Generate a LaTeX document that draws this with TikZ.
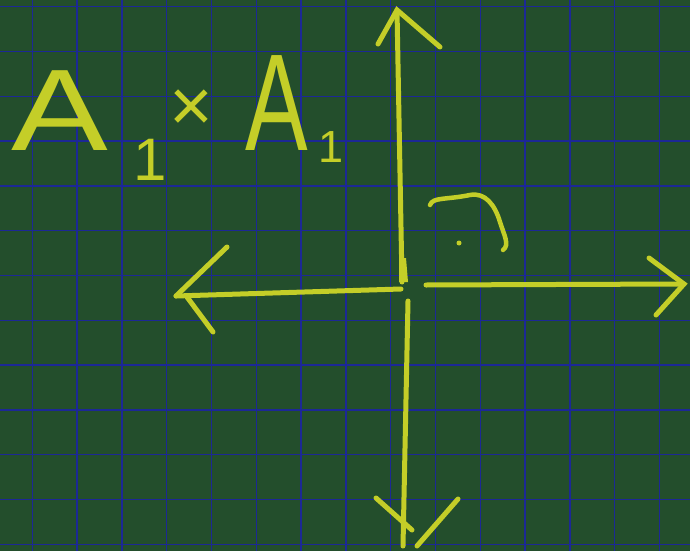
\documentclass[tikz,border=0pt]{standalone}
\usepackage{fontspec}
\setmainfont{Liberation Sans}
\definecolor{board}{RGB}{35,78,44}
\definecolor{gridblue}{RGB}{28,40,150}
\definecolor{chalk}{RGB}{196,206,40}
\tikzset{
  chalkline/.style={draw=chalk,line width=5pt,line cap=round},
  gridline/.style={draw=gridblue,line width=1.3pt},
  chalktext/.style={text=chalk,inner sep=0pt,anchor=base west},
}
\begin{document}
\begin{tikzpicture}[x=1pt,y=-1pt]
\fill[board] (0,0) rectangle (690,551);
\useasboundingbox (0,0) rectangle (690,551);
\foreach \k in {0,...,14} {\draw[gridline] (32.3+44.8*\k,0) -- (32.3+44.8*\k,551);}
\foreach \k in {0,...,12} {\draw[gridline] (0,6.7+44.8*\k) -- (690,6.7+44.8*\k);}
% text
\node[chalktext,font=\fontsize{116}{116}\selectfont,xscale=1.25] (a1) at (11,150) {A};
\node[chalktext,font=\fontsize{60}{60}\selectfont] (s1) at (133,180) {1};
\node[chalktext,font=\fontsize{75}{75}\selectfont,anchor=center] (times) at (191,111) {×};
\node[chalktext,font=\fontsize{138}{138}\selectfont,xscale=0.68] (a2) at (245,150) {A};
\node[chalktext,font=\fontsize{45}{45}\selectfont] (s2) at (318,162) {1};
% axes
\coordinate (up0) at (402,282);
\coordinate (up1) at (397,10);
\coordinate (upl) at (378,44);
\coordinate (upr) at (440,47);
\coordinate (rt0) at (426,285);
\coordinate (rt1) at (684,284);
\coordinate (rtu) at (649,258);
\coordinate (rtd) at (656,315);
\coordinate (lf0) at (401,289);
\coordinate (lf1) at (176,296);
\coordinate (lfu) at (227,247);
\coordinate (lfd) at (213,332);
\coordinate (lfh) at (187,297);
\coordinate (dn0) at (408,301);
\coordinate (dn1) at (403,546);
\coordinate (dnl) at (376,498);
\coordinate (dnlb) at (412,530);
\coordinate (dnr) at (458,499);
\coordinate (dnrb) at (417,546);
\draw[chalkline] (up0) -- (up1);
\draw[chalkline] (upl) -- (up1) -- (upr);
\fill[chalk] (399,258) -- (406,258) -- (408,282) -- (399,282) -- cycle;
\draw[chalkline] (rt0) -- (rt1);
\draw[chalkline] (rtu) -- (rt1) -- (rtd);
\draw[chalkline] (lf0) -- (lf1);
\draw[chalkline] (lfu) -- (lf1);
\draw[chalkline] (lfh) -- (lfd);
\draw[chalkline] (dn0) -- (dn1);
\draw[chalkline] (dnl) -- (dnlb);
\draw[chalkline] (dnr) -- (dnrb);
% angle mark
\draw[chalkline,line width=4.5pt] (430,205) .. controls (433,197) and (445,200) .. (470,195)
  .. controls (485,192) and (495,205) .. (500,222)
  .. controls (504,235) and (510,245) .. (503,250);
\fill[chalk] (459,243) circle (2.5);
\end{tikzpicture}
\end{document}
